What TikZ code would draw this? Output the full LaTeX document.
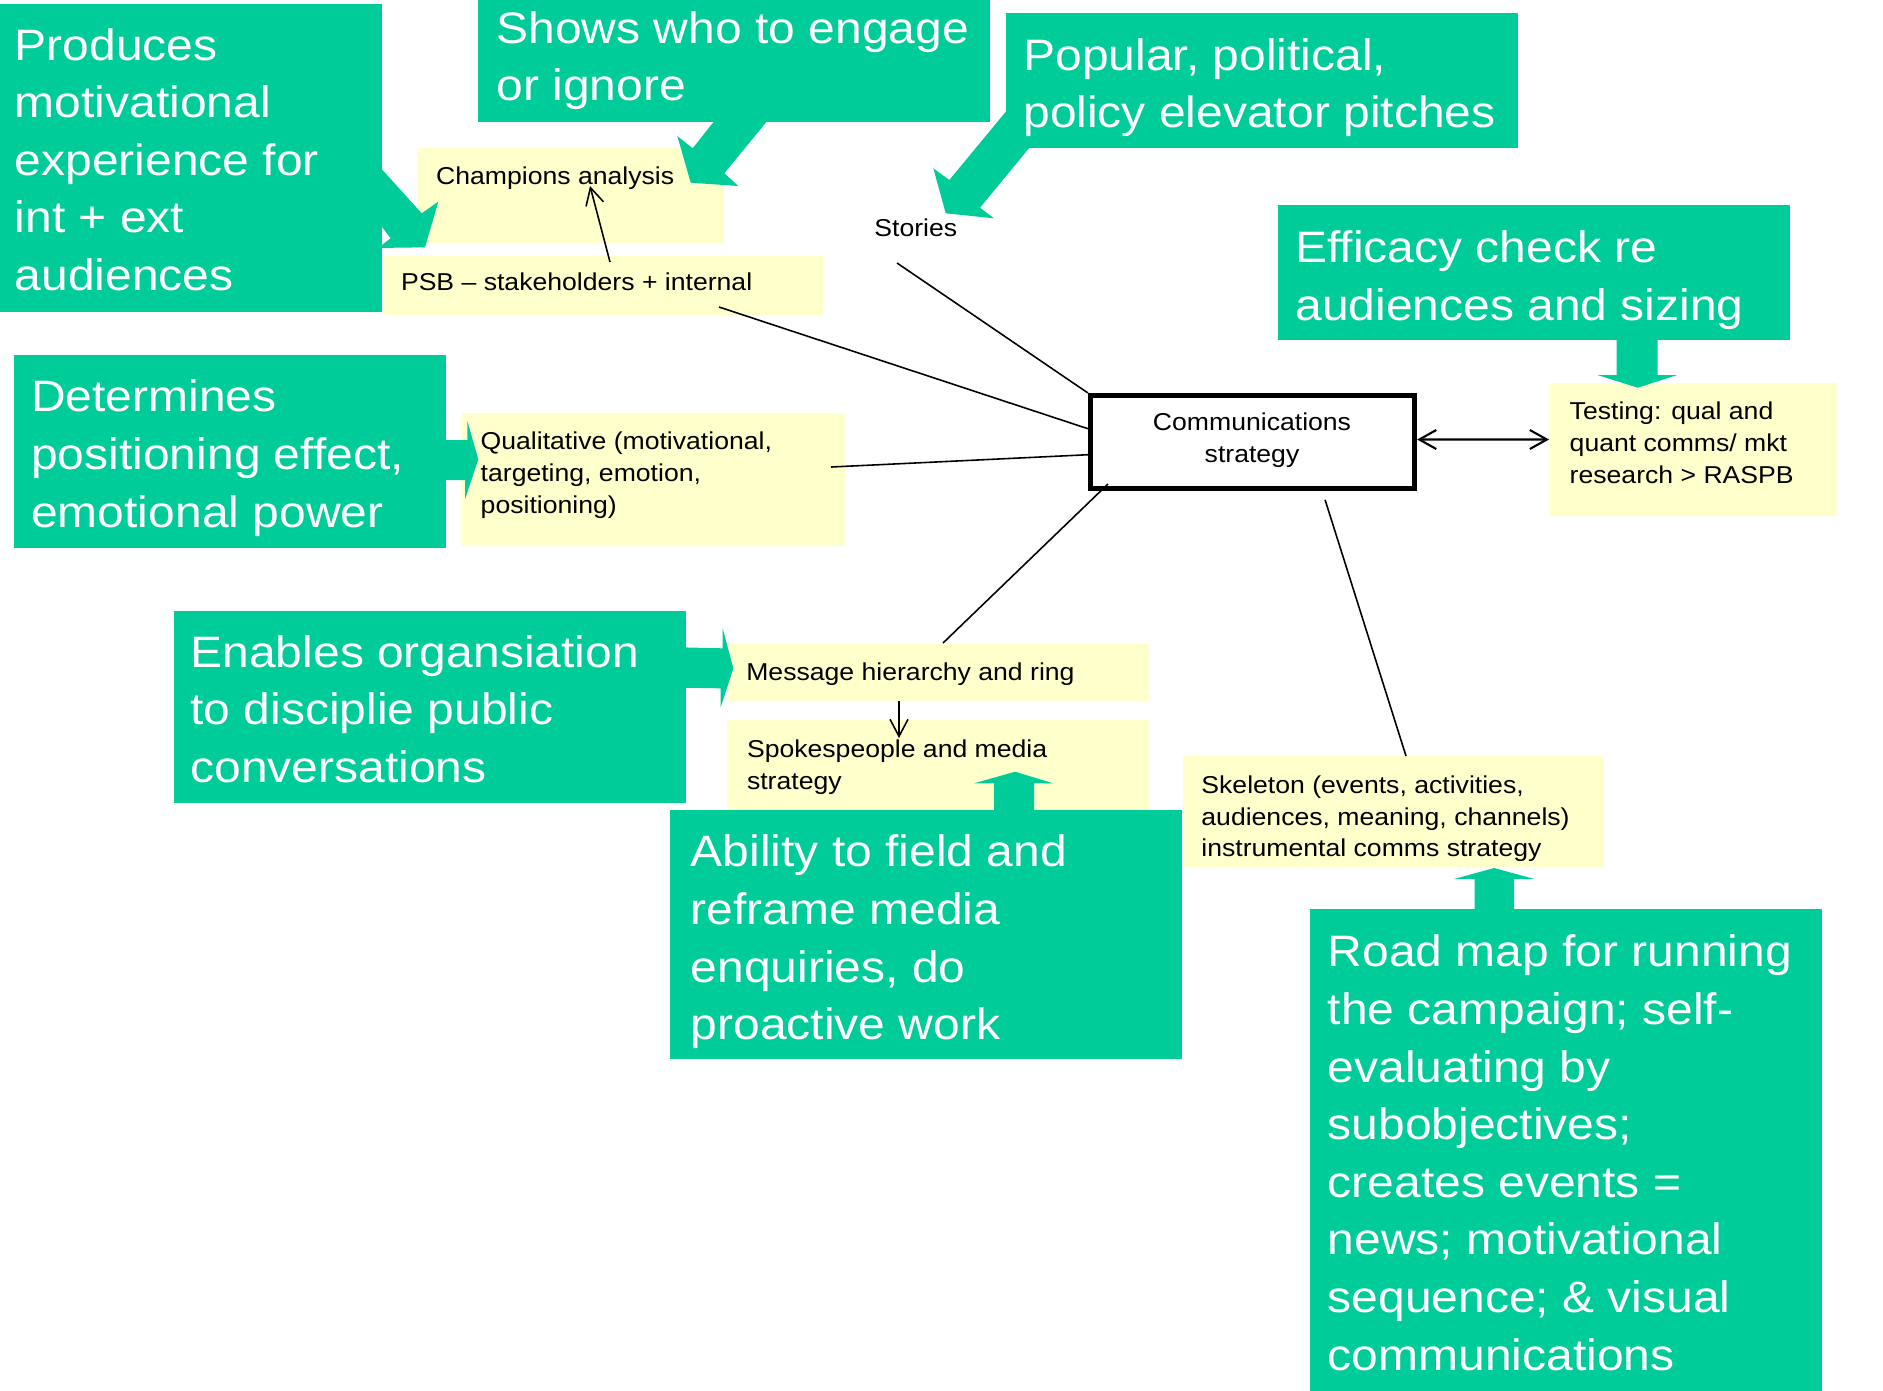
\documentclass[tikz,border=0pt]{standalone}
\usepackage{fontspec}
\setmainfont[FakeStretch=1.09]{Liberation Sans}
\usetikzlibrary{arrows.meta}
\definecolor{callout}{HTML}{00CC99}
\definecolor{note}{HTML}{FFFFCC}
% invisible rules that fix the height of the first text line
\newcommand\gstrut{\rule{0pt}{0.403cm}}
\newcommand\ystrut{\rule{0pt}{0.223cm}}

\begin{document}
\begin{tikzpicture}[x=0.01cm, y=-0.01cm,
  gbox/.style={fill=callout, draw=none, inner sep=0pt, outer sep=0pt, anchor=north west},
  ybox/.style={fill=note, draw=none, inner sep=0pt, outer sep=0pt, anchor=north west},
  gtxt/.style={anchor=north west, inner sep=0pt, text=white, align=left,
    font=\fontsize{12.52pt}{16.39pt}\selectfont},
  ytxt/.style={anchor=north west, inner sep=0pt, text=black, align=left,
    font=\fontsize{6.94pt}{9.05pt}\selectfont},
  link/.style={line width=0.45pt, black},
  barbend/.style={-{Straight Barb[length=0.17cm, width=0.18cm]}},
  pointer/.style={fill=callout, draw=none}
]
\useasboundingbox (0,0) rectangle (1883,1390);

% ---- yellow note boxes ----
\node[ybox, minimum width=3.07cm, minimum height=0.95cm] (champbox) at (417,148) {};
\node[ybox, minimum width=4.40cm, minimum height=0.59cm] (psbbox)   at (383,256) {};
\node[ybox, minimum width=3.83cm, minimum height=1.33cm] (qualbox)  at (462,413) {};
\node[ybox, minimum width=2.87cm, minimum height=1.33cm] (testbox)  at (1550,383) {};
\node[ybox, minimum width=4.22cm, minimum height=0.57cm] (msgbox)   at (727,644) {};
\node[ybox, minimum width=4.22cm, minimum height=0.90cm] (spokebox) at (727,720) {};
\node[ybox, minimum width=4.21cm, minimum height=1.11cm] (skelbox)  at (1183,756) {};

% ---- central box ----
\node[draw, line width=0.05cm, inner sep=0pt, minimum width=3.24cm, minimum height=0.93cm] (comm) at (1252.5,442) {};

% ---- connector end points ----
\coordinate (stA)   at (897,263);
\coordinate (psbA)  at (719,307);
\coordinate (qualA) at (831,467);
\coordinate (msgA)  at (943,643);
\coordinate (skelA) at (1406,756);
\coordinate (testA) at (1549,439.5);
\coordinate (psbB)  at (610,262);
\coordinate (champB) at (590,186);
\coordinate (msgB)  at (899,701);
\coordinate (spokeB) at (899,738);

\draw[link] (stA) -- (comm.north west);
\draw[link] (psbA) -- ([yshift=0.133cm]comm.west);
\draw[link] (qualA) -- ([yshift=-0.127cm]comm.west);
\draw[link] (msgA) -- ([xshift=0.2cm,yshift=0.07cm]comm.south west);
\draw[link] (skelA) -- ([xshift=0.725cm,yshift=-0.087cm]comm.south);
\draw[link, line width=0.6pt, {Straight Barb[length=0.17cm, width=0.19cm]}-{Straight Barb[length=0.17cm, width=0.19cm]}]
  ([yshift=0.025cm]comm.east) -- (testA);
\draw[link, barbend] (psbB) -- (champB);
\draw[link, barbend] (msgB) -- (spokeB);

% ---- callout pointers ----
\fill[pointer] (375,161.7) -- (421.7,213.3) -- (438.3,201.7) -- (425,247.3) -- (375,248)
  -- (375,245) -- (382,245) -- (390.7,238.3) -- (382,227) -- (375,227) -- cycle;
\fill[pointer] (719,115) -- (692.7,148.3) -- (677.3,136) -- (690.7,182.7) -- (738.3,186)
  -- (724.3,173.3) -- (772,115) -- cycle;
\fill[pointer] (1006,111.4) -- (949.3,180) -- (933.3,168.3) -- (945.7,213.3) -- (994,218.3)
  -- (980,207.7) -- (1053,119) -- (1053,104) -- (1006,104) -- cycle;
\fill[pointer] (1616.7,330) -- (1616.7,375) -- (1597.3,375) -- (1637.7,387.7) -- (1677.3,375)
  -- (1657.7,375) -- (1657.7,330) -- cycle;
\fill[pointer] (440,440) -- (467.3,440) -- (467.3,420.7) -- (478.3,459.3) -- (465,499.3)
  -- (465,480) -- (440,480) -- cycle;
\fill[pointer] (680,647.3) -- (722.7,648.3) -- (722.7,628.3) -- (733.3,668.3) -- (720.7,707.3)
  -- (720.7,688.3) -- (680,687.7) -- cycle;
\fill[pointer] (994,815) -- (994,783.3) -- (974,783.3) -- (1015,771.7) -- (1053.3,783.3)
  -- (1034,783.3) -- (1034,815) -- cycle;
\fill[pointer] (1474.5,915) -- (1474.5,879) -- (1454,879) -- (1494,868) -- (1534.5,879)
  -- (1514,879) -- (1514,915) -- cycle;

% ---- green callout boxes ----
\node[gbox, minimum width=3.82cm, minimum height=3.08cm] (prodbox) at (0,4) {};
\node[gbox, minimum width=5.12cm, minimum height=1.22cm] (showbox) at (478,0) {};
\node[gbox, minimum width=5.12cm, minimum height=1.35cm] (popbox)  at (1006,13) {};
\node[gbox, minimum width=5.12cm, minimum height=1.35cm] (effbox)  at (1278,204.5) {};
\node[gbox, minimum width=4.32cm, minimum height=1.93cm] (detbox)  at (14,355) {};
\node[gbox, minimum width=5.12cm, minimum height=1.92cm] (enabox)  at (174,611) {};
\node[gbox, minimum width=5.12cm, minimum height=2.49cm] (abibox)  at (670,810) {};
\node[gbox, minimum width=5.12cm, minimum height=4.85cm] (roadbox) at (1310,909) {};

% ---- callout texts ----
\node[gtxt] (prodtxt) at (14.2,19.0) {\gstrut Produces\\motivational\\experience for\\int + ext\\audiences};
\node[gtxt] (showtxt) at (495.9,2.2) {\gstrut Shows who to engage\\or ignore};
\node[gtxt] (poptxt)  at (1022.6,29.0) {\gstrut Popular, political,\\policy elevator pitches};
\node[gtxt] (efftxt)  at (1294.6,221.7) {\gstrut Efficacy check re\\audiences and sizing};
\node[gtxt] (dettxt)  at (30.6,370.7) {\gstrut Determines\\positioning effect,\\emotional power};
\node[gtxt] (enatxt)  at (189.9,626.2) {\gstrut Enables organsiation\\to disciplie public\\conversations};
\node[gtxt] (abitxt)  at (690.0,825.7) {\gstrut Ability to field and\\reframe media\\enquiries, do\\proactive work};
\node[gtxt] (roadtxt) at (1327.0,925.7) {\gstrut Road map for running\\the campaign; self-\\evaluating by\\subobjectives;\\creates events =\\news; motivational\\sequence; \& visual\\communications};

% ---- note texts ----
\node[ytxt] (champtxt) at (435.4,161.0) {\ystrut Champions analysis};
\node[ytxt] (psbtxt)   at (400.3,267.5) {\ystrut PSB – stakeholders + internal};
\node[ytxt] (storytxt) at (873.7,213.7) {\ystrut Stories};
\node[ytxt] (qualtxt)  at (480.0,426.7) {\ystrut Qualitative (motivational,\\targeting, emotion,\\positioning)};
\node[ytxt] (testtxt)  at (1569.0,396.7) {\ystrut Testing: qual and\\quant comms/ mkt\\research > RASPB};
\node[ytxt] (msgtxt)   at (745.6,657.2) {\ystrut Message hierarchy and ring};
\node[ytxt] (spoketxt) at (746.3,734.7) {\ystrut Spokespeople and media\\strategy};
\node[ytxt] (skeltxt)  at (1200.7,770.2) {\ystrut Skeleton (events, activities,\\audiences, meaning, channels)\\instrumental comms strategy};
\node[ytxt, anchor=north, align=center] (commtxt) at (1252,407.2) {\ystrut Communications\\strategy};

\end{tikzpicture}
\end{document}
